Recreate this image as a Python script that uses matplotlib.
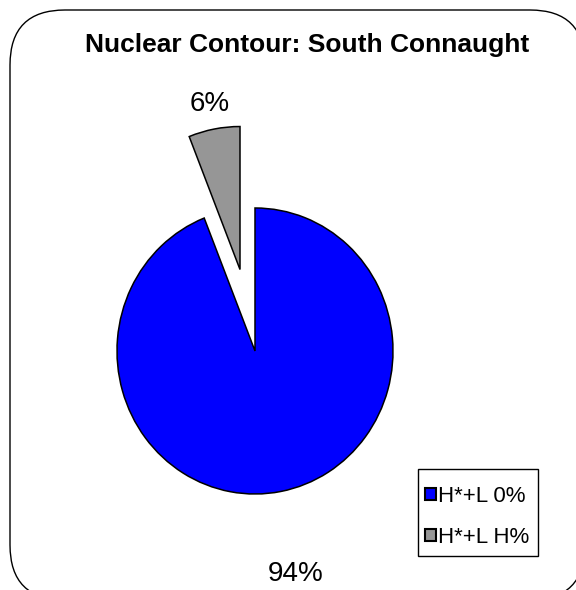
import numpy as np
import matplotlib.pyplot as plt
from matplotlib.patches import FancyBboxPatch, Rectangle

plt.rcParams['font.family'] = ['Liberation Sans', 'DejaVu Sans']

# data
categories = ['H*+L 0%', 'H*+L H%']
shares = [94, 6]
pct_labels = ['94%', '6%']
colors = ['#0000ff', '#969696']
explode = [0, 0.58]
label_dist = [1.59, 1.18]

W, H = 576, 590
fig = plt.figure(figsize=(W / 100, H / 100), dpi=100)

# background axes in pixel coords for the rounded frame and legend box
bg = fig.add_axes([0, 0, 1, 1])
bg.set_xlim(0, W)
bg.set_ylim(H, 0)
bg.axis('off')
bg.add_patch(FancyBboxPatch((10, 10), 575, 590, boxstyle='round,pad=0,rounding_size=55',
                            fc='white', ec='black', lw=1.0))
bg.add_patch(Rectangle((418, 469), 120, 87, fc='white', ec='black', lw=1.0))

# pie axes, a little taller than wide like the original
cx, cy, rx, ry = 255, 351, 138, 143
lim = 1.8
ax = fig.add_axes([(cx - lim * rx) / W, (H - cy - lim * ry) / H, 2 * lim * rx / W, 2 * lim * ry / H])
wedges, _ = ax.pie(shares, colors=colors, explode=explode, startangle=111.6,
                   wedgeprops=dict(edgecolor='black', linewidth=1.1))
ax.set_aspect('auto')
ax.set_xlim(-lim, lim)
ax.set_ylim(-lim, lim)
ax.axis('off')

for w, lab, d, e in zip(wedges, pct_labels, label_dist, explode):
    ang = np.deg2rad((w.theta1 + w.theta2) / 2)
    x = (e + d) * np.cos(ang)
    y = (e + d) * np.sin(ang)
    ax.text(x, y, lab, ha='center', va='center', fontsize=20)

fig.text(307 / W, 1 - 45 / H, 'Nuclear Contour: South Connaught', ha='center', va='center',
         fontsize=19, fontweight='bold')

leg = fig.legend(wedges, categories, loc='center left', bbox_to_anchor=(425 / W, 1 - 517 / H),
                 borderaxespad=0, frameon=False, fontsize=16,
                 handlelength=0.5, handleheight=0.5, handletextpad=0.1, labelspacing=0.9,
                 borderpad=0)
for h in leg.legend_handles:
    h.set_linewidth(1.5)

fig.savefig('out.png', dpi=100)
